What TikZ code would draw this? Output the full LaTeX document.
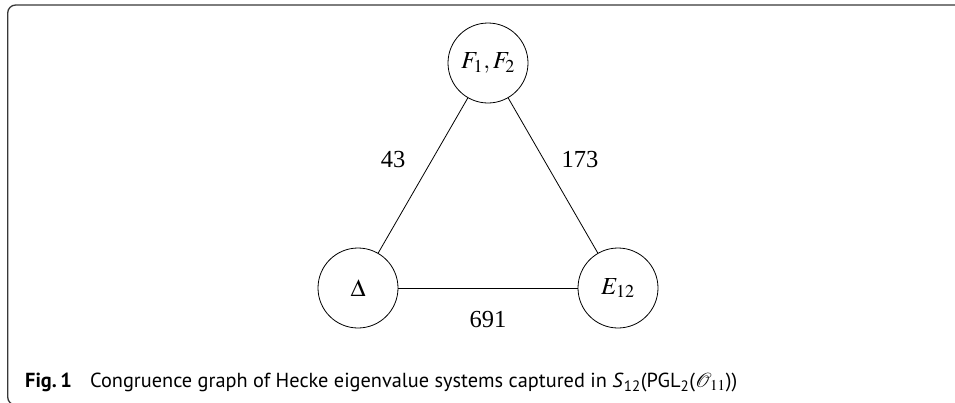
\documentclass[tikz,border=0pt]{standalone}
\usepackage{mathptmx}
\usepackage{fontspec}
\setmainfont{Liberation Serif}
\newfontfamily\capfont{PT Sans}
\begin{document}
\begin{tikzpicture}[x=1pt,y=-1pt,
  vert/.style={draw, circle, line width=0.8pt, minimum size=80pt, inner sep=0pt, font=\fontsize{24.5}{29}\selectfont},
  conn/.style={line width=0.8pt},
  elab/.style={font=\fontsize{24.5}{29}\selectfont, inner sep=0pt},
  frame/.style={draw=black!78, line width=1.3pt, rounded corners=8pt}]
\clip (0,0) rectangle (955,402);
\useasboundingbox (0,0) rectangle (955,402);
\draw[frame] (7.7,5) rectangle (970,405);
\node[vert] (f) at (488,63) {$F_1, F_2$};
\node[vert] (d) at (358,288) {$\Delta$};
\node[vert] (e) at (618,288) {$E_{12}$};
\draw[conn] (f) -- node[elab, xshift=-30pt, yshift=15.5pt] (l43) {43} (d);
\draw[conn] (f) -- node[elab, xshift=27pt, yshift=15.5pt] (l173) {173} (e);
\draw[conn] (d) -- node[elab, yshift=-32pt] (l691) {691} (e);
\node[anchor=base west, inner sep=0pt] (cap) at (25,387.5)
  {\resizebox{712pt}{!}{\capfont\fontsize{15}{18}\selectfont\textbf{Fig.\,1}\hspace{0.9em}Congruence graph of Hecke eigenvalue systems captured in \textit{S}\textsubscript{12}(PGL\textsubscript{2}($\mathcal{O}_{11}$))}};
\end{tikzpicture}
\end{document}
